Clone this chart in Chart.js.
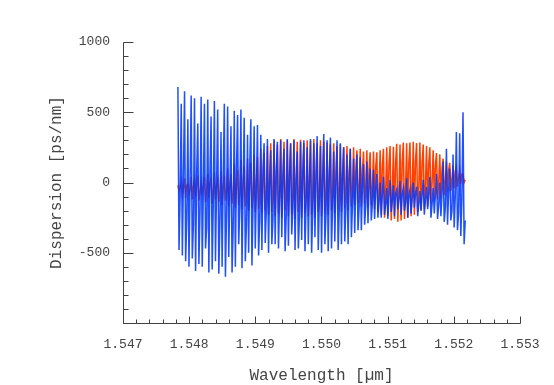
<!DOCTYPE html>
<html><head><meta charset="utf-8">
<script src="https://cdn.jsdelivr.net/npm/chart.js@4/dist/chart.umd.min.js"></script>
<style>html,body{margin:0;padding:0;background:#fff}</style>
</head><body>
<canvas id="c" width="554" height="385"></canvas>
<script>
// Sampling grid (wavelength, µm)
const wavelengthStart = 1.54783;
const wavelengthStep = 0.0000167;

// Blue trace (ps/nm), read as peak / trough / mid per ripple
const blueDispersion = [
  680,-480,-100, 560,-520,50, 650,-560,-250, 450,-600,0, 620,-540,-300,
  600,-630,80, 420,-580,-200, 610,-600,-50, 560,-470,-320, 590,-640,60,
  470,-620,-150, 580,-560,-20, 520,-650,-280, 360,-600,40, 560,-670,-220,
  540,-530,-60, 400,-640,-320, 510,-600,100, 480,-440,-180, 520,-610,-30,
  460,-560,-300, 340,-500,120, 450,-590,-150, 400,-470,-60, 410,-520,-280,
  340,-480,100, 280,-430,-200, 310,-500,0, 230,-440,-260, 310,-440,80,
  290,-470,-120, 300,-390,40, 240,-490,-240, 310,-450,60, 280,-370,-180,
  300,-480,20, 220,-470,-220, 290,-410,80, 300,-490,-150, 250,-440,0,
  310,-500,-200, 280,-390,60, 330,-480,-120, 260,-500,30, 345,-440,-230,
  300,-490,50, 320,-470,-160, 220,-420,20, 300,-480,-200, 280,-440,40,
  250,-420,-180, 200,-440,10, 240,-390,-150, 170,-360,0, 200,-340,-170,
  180,-340,-20, 130,-300,-160, 150,-290,-30, 100,-270,-150, 90,-260,-40,
  60,-250,-140, 0,-250,-80, 40,-230,-150, -40,-260,-90, 20,-210,-130,
  -20,-240,-80, -50,-190,-120, 10,-230,-80, -40,-200,-140, 30,-250,-90,
  -50,-220,-110, 0,-180,-80, -30,-240,-150, -60,-200,-90, 20,-230,-120,
  -30,-190,-80, 40,-250,-150, -40,-220,-90, 60,-260,-160, 0,-240,-80,
  150,-280,-180, 240,-300,-60, 100,-270,-200, 200,-320,-100, 360,-340,-220,
  350,-380,-120, 500,-440,-270
];

// Red trace (ps/nm), read as peak / trough / mid per ripple
const redDispersion = [
  -20,-60,-30, 10,-90,-40, 30,-110,-20, -10,-80,-50, 40,-120,-30,
  20,-100,-10, 50,-130,-60, 0,-90,-20, 40,-140,-50, 60,-110,0,
  30,-150,-60, 70,-120,-20, 20,-140,-70, 80,-160,-30, 50,-130,-60,
  100,-170,-20, 60,-150,-80, 130,-180,-30, 90,-160,-70, 160,-190,0,
  120,-170,-80, 170,-200,-20, 140,-180,-90, 200,-210,10, 180,-190,-80,
  240,-220,0, 210,-200,-90, 260,-230,20, 280,-210,-80, 300,-240,30,
  270,-220,-100, 310,-250,20, 290,-200,-90, 300,-240,40, 280,-230,-100,
  310,-260,10, 290,-210,-80, 305,-250,30, 280,-220,-110, 300,-240,20,
  295,-230,-90, 310,-250,40, 280,-210,-80, 300,-240,30, 290,-220,-100,
  285,-230,40, 270,-200,-70, 280,-220,50, 260,-190,-60, 270,-210,60,
  250,-180,-50, 260,-200,70, 240,-170,-40, 250,-160,80, 230,-150,-30,
  240,-170,90, 220,-150,-40, 230,-180,100, 215,-160,-50, 220,-190,110,
  215,-210,-60, 230,-230,120, 240,-250,-70, 250,-240,130, 260,-270,-80,
  255,-260,140, 275,-280,-60, 270,-270,150, 285,-260,-50, 280,-250,140,
  285,-240,-40, 290,-230,150, 280,-210,-30, 285,-200,140, 270,-190,-20,
  260,-170,130, 250,-150,-10, 230,-130,120, 210,-120,0, 200,-110,100,
  170,-90,10, 150,-70,90, 140,-60,20, 120,-40,80, 110,-30,30,
  90,-10,60, 60,0,20
];

const xTickValues = [1.547, 1.548, 1.549, 1.550, 1.551, 1.552, 1.553];
const xTickLabels = ['1.547','1.548','1.549','1.550','1.551','1.552','1.553'];
const yTickValues = [-500, 0, 500, 1000];
const yTickLabels = ['-500','0','500','1000'];

const toPoints = arr => arr.map((v, i) => ({x: wavelengthStart + i * wavelengthStep, y: v}));

const axesPlugin = {
  id: 'axesInward',
  afterDatasetsDraw(chart) {
    const {ctx, chartArea, scales} = chart;
    const x = scales.x, y = scales.y;
    const L = Math.round(chartArea.left) + 0.5;
    const B = Math.round(chartArea.bottom) + 0.5;
    const T = Math.round(chartArea.top) + 0.5;
    const R = Math.round(chartArea.right) + 0.5;
    ctx.save();
    ctx.strokeStyle = '#404040';
    ctx.lineWidth = 1;
    ctx.beginPath();
    ctx.moveTo(L, T); ctx.lineTo(L, B); ctx.lineTo(R, B);
    for (let k = -10; k <= 10; k++) {
      const py = Math.round(y.getPixelForValue(k * 100)) + 0.5;
      const len = (k % 5 === 0) ? 10 : 5;
      ctx.moveTo(L, py); ctx.lineTo(L + len, py);
    }
    for (let k = 0; k <= 30; k++) {
      const px = Math.round(x.getPixelForValue(1.547 + k * 0.0002)) + 0.5;
      const len = (k % 5 === 0) ? 7 : 4;
      ctx.moveTo(px, B); ctx.lineTo(px, B - len);
    }
    ctx.stroke();
    ctx.restore();
  }
};

const textColor = '#444444';
const tickFont = {family: 'Liberation Mono', size: 13};
const titleFont = {family: 'Liberation Mono', size: 16};

new Chart(document.getElementById('c'), {
  type: 'line',
  data: {
    datasets: [
      {label: 'blue', data: toPoints(blueDispersion), borderColor: 'rgba(0,56,255,0.88)', borderWidth: 1.5, pointRadius: 0, tension: 0},
      {label: 'red', data: toPoints(redDispersion), borderColor: 'rgb(255,64,0)', borderWidth: 1.5, pointRadius: 0, tension: 0}
    ]
  },
  options: {
    responsive: false,
    devicePixelRatio: 1,
    animation: false,
    layout: {padding: {top: 42, right: 34, left: 0, bottom: 0}},
    plugins: {legend: {display: false}, tooltip: {enabled: false}},
    scales: {
      x: {
        type: 'linear', min: 1.547, max: 1.553,
        grid: {display: false, drawTicks: false},
        border: {display: false},
        afterBuildTicks: s => { s.ticks = xTickValues.map(v => ({value: v})); },
        afterFit: s => { s.height = 62; },
        ticks: {
          autoSkip: false, maxRotation: 0, padding: 14, color: textColor, font: tickFont,
          callback: (v) => { const i = xTickValues.findIndex(t => Math.abs(t - v) < 1e-9); return i >= 0 ? xTickLabels[i] : ''; }
        },
        title: {display: true, text: 'Wavelength [µm]', color: textColor, font: titleFont, padding: {top: 0, bottom: 0}}
      },
      y: {
        type: 'linear', min: -1000, max: 1000,
        grid: {display: false, drawTicks: false},
        border: {display: false},
        afterBuildTicks: s => { s.ticks = yTickValues.map(v => ({value: v})); },
        afterFit: s => { s.width = 123; },
        ticks: {
          autoSkip: false, padding: 13, color: textColor, font: tickFont,
          callback: (v) => { const i = yTickValues.indexOf(v); return i >= 0 ? yTickLabels[i] : ''; }
        },
        title: {display: true, text: 'Dispersion [ps/nm]', color: textColor, font: titleFont, padding: {top: 47, bottom: 0}}
      }
    }
  },
  plugins: [axesPlugin]
});
</script>
</body></html>
